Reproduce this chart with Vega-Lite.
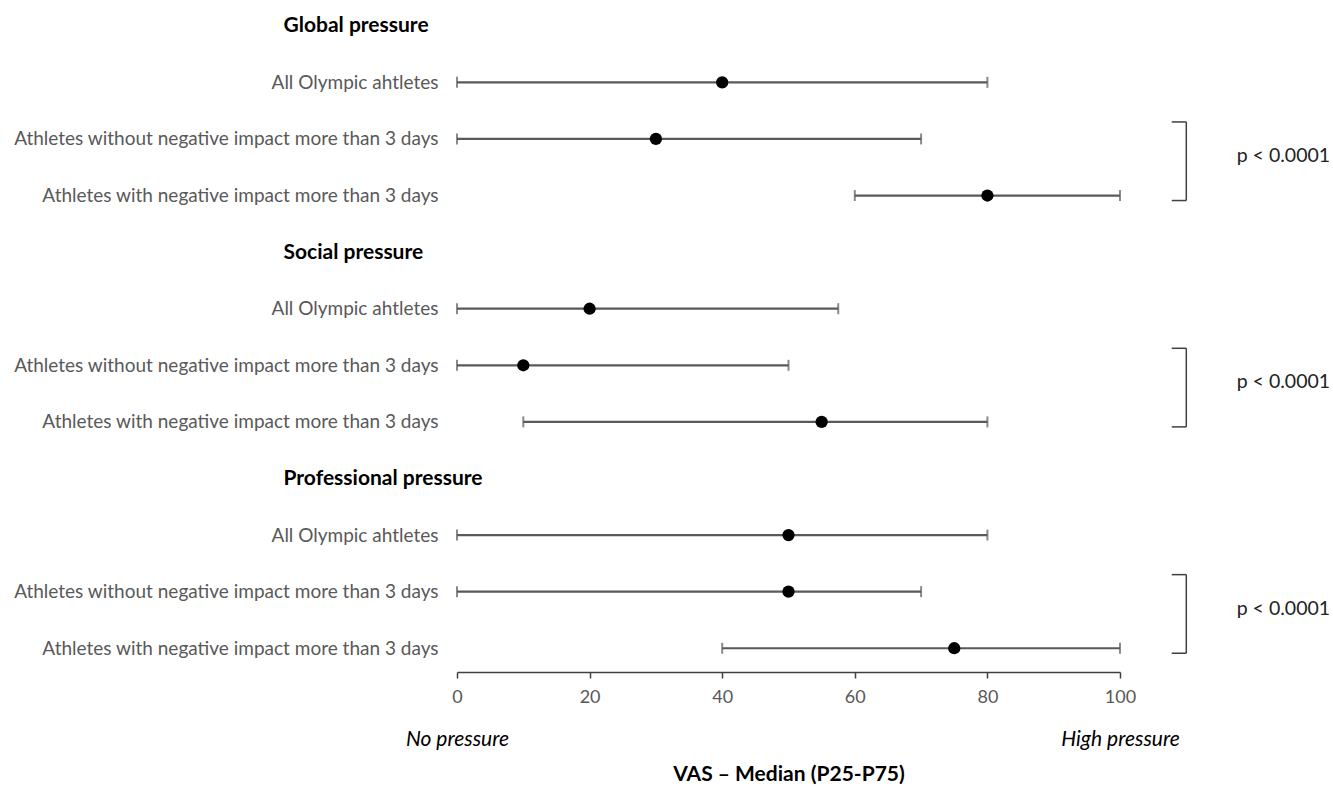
{
  "$schema": "https://vega.github.io/schema/vega-lite/v6.json",
  "width": 663,
  "height": 670,
  "autosize": {"type": "none"},
  "padding": {"left": 457, "right": 213, "top": 2, "bottom": 118},
  "background": "white",
  "config": {"view": {"stroke": null}, "font": "Lato"},
  "datasets": {
    "rows": [
      {"id": "g1|All Olympic ahtletes", "med": 40, "lo": 0, "hi": 80},
      {"id": "g2|Athletes without negative impact more than 3 days", "med": 30, "lo": 0, "hi": 70},
      {"id": "g3|Athletes with negative impact more than 3 days", "med": 80, "lo": 60, "hi": 100},
      {"id": "s1|All Olympic ahtletes", "med": 20, "lo": 0, "hi": 57.5},
      {"id": "s2|Athletes without negative impact more than 3 days", "med": 10, "lo": 0, "hi": 50},
      {"id": "s3|Athletes with negative impact more than 3 days", "med": 55, "lo": 10, "hi": 80},
      {"id": "p1|All Olympic ahtletes", "med": 50, "lo": 0, "hi": 80},
      {"id": "p2|Athletes without negative impact more than 3 days", "med": 50, "lo": 0, "hi": 70},
      {"id": "p3|Athletes with negative impact more than 3 days", "med": 75, "lo": 40, "hi": 100}
    ],
    "tests": [
      {"top": "g2|Athletes without negative impact more than 3 days", "bot": "g3|Athletes with negative impact more than 3 days", "p": "p < 0.0001"},
      {"top": "s2|Athletes without negative impact more than 3 days", "bot": "s3|Athletes with negative impact more than 3 days", "p": "p < 0.0001"},
      {"top": "p2|Athletes without negative impact more than 3 days", "bot": "p3|Athletes with negative impact more than 3 days", "p": "p < 0.0001"}
    ]
  },
  "layer": [
    {
      "data": {"name": "rows"},
      "mark": {"type": "rule", "color": "#595959", "strokeWidth": 2.2},
      "encoding": {
        "y": {
          "field": "id",
          "type": "nominal",
          "scale": {
            "type": "point",
            "padding": 0.42,
            "domain": [
              "g0|Global pressure",
              "g1|All Olympic ahtletes",
              "g2|Athletes without negative impact more than 3 days",
              "g3|Athletes with negative impact more than 3 days",
              "s0|Social pressure",
              "s1|All Olympic ahtletes",
              "s2|Athletes without negative impact more than 3 days",
              "s3|Athletes with negative impact more than 3 days",
              "p0|Professional pressure",
              "p1|All Olympic ahtletes",
              "p2|Athletes without negative impact more than 3 days",
              "p3|Athletes with negative impact more than 3 days"
            ]
          },
          "axis": {
            "title": null,
            "domain": false,
            "ticks": false,
            "grid": false,
            "labelLimit": 0,
            "labelFontSize": {"condition": {"test": "indexof(datum.value, '0|') == 1", "value": 21}, "value": 19},
            "labelExpr": "split(datum.label, '|')[1]",
            "labelColor": {"condition": {"test": "indexof(datum.value, '0|') == 1", "value": "black"}, "value": "#595959"},
            "labelFontWeight": {"condition": {"test": "indexof(datum.value, '0|') == 1", "value": "bold"}, "value": "normal"},
            "labelAlign": {"condition": {"test": "indexof(datum.value, '0|') == 1", "value": "left"}, "value": "right"},
            "labelPadding": {"condition": {"test": "indexof(datum.value, '0|') == 1", "value": 174}, "value": 19}
          }
        },
        "x": {
          "field": "lo",
          "type": "quantitative",
          "scale": {"domain": [0, 100], "nice": false},
          "axis": {
            "orient": "bottom",
            "values": [0, 20, 40, 60, 80, 100],
            "title": null,
            "grid": false,
            "labelFlush": false,
            "labelFontSize": 18,
            "labelColor": "#595959",
            "domainColor": "#404040",
            "domainWidth": 1.5,
            "tickColor": "#404040",
            "tickWidth": 1.5,
            "tickSize": 6,
            "labelPadding": 10
          }
        },
        "x2": {"field": "hi"}
      }
    },
    {
      "data": {"name": "rows"},
      "transform": [{"fold": ["lo", "hi"], "as": ["k", "v"]}],
      "mark": {"type": "tick", "color": "#595959", "thickness": 2, "size": 11, "orient": "vertical"},
      "encoding": {
        "x": {"field": "v", "type": "quantitative", "axis": null},
        "y": {"field": "id", "type": "nominal"}
      }
    },
    {
      "data": {"name": "rows"},
      "mark": {"type": "point", "filled": true, "color": "black", "size": 150, "opacity": 1},
      "encoding": {
        "x": {
          "field": "med",
          "type": "quantitative",
          "axis": {
            "orient": "bottom",
            "values": [0, 100],
            "labelExpr": "datum.value == 0 ? 'No pressure' : 'High pressure'",
            "labelFontStyle": "italic",
            "labelFontSize": 21,
            "labelColor": "black",
            "labelFlush": false,
            "domain": false,
            "ticks": false,
            "tickSize": 0,
            "grid": false,
            "offset": 56,
            "labelPadding": 0,
            "title": "VAS – Median (P25-P75)",
            "titleFontSize": 21,
            "titleFontWeight": "bold",
            "titleColor": "black",
            "titlePadding": 14
          }
        },
        "y": {"field": "id", "type": "nominal"}
      }
    },
    {
      "data": {"name": "tests"},
      "mark": {"type": "rule", "color": "#404040", "strokeWidth": 1.5, "yOffset": -17, "y2Offset": 5},
      "encoding": {
        "x": {"datum": 110, "type": "quantitative", "axis": null},
        "y": {"field": "top", "type": "nominal"},
        "y2": {"field": "bot"}
      }
    },
    {
      "data": {"name": "tests"},
      "mark": {"type": "rule", "color": "#404040", "strokeWidth": 1.5, "yOffset": -17},
      "encoding": {
        "x": {"datum": 107.8, "type": "quantitative", "axis": null},
        "x2": {"datum": 110},
        "y": {"field": "top", "type": "nominal"}
      }
    },
    {
      "data": {"name": "tests"},
      "mark": {"type": "rule", "color": "#404040", "strokeWidth": 1.5, "yOffset": 5},
      "encoding": {
        "x": {"datum": 107.8, "type": "quantitative", "axis": null},
        "x2": {"datum": 110},
        "y": {"field": "bot", "type": "nominal"}
      }
    },
    {
      "data": {"name": "tests"},
      "mark": {"type": "text", "align": "left", "baseline": "middle", "fontSize": 19.5, "color": "#222222", "yOffset": 17},
      "encoding": {
        "x": {"datum": 117.6, "type": "quantitative", "axis": null},
        "y": {"field": "top", "type": "nominal"},
        "text": {"field": "p"}
      }
    }
  ],
  "resolve": {"axis": {"x": "independent"}}
}
